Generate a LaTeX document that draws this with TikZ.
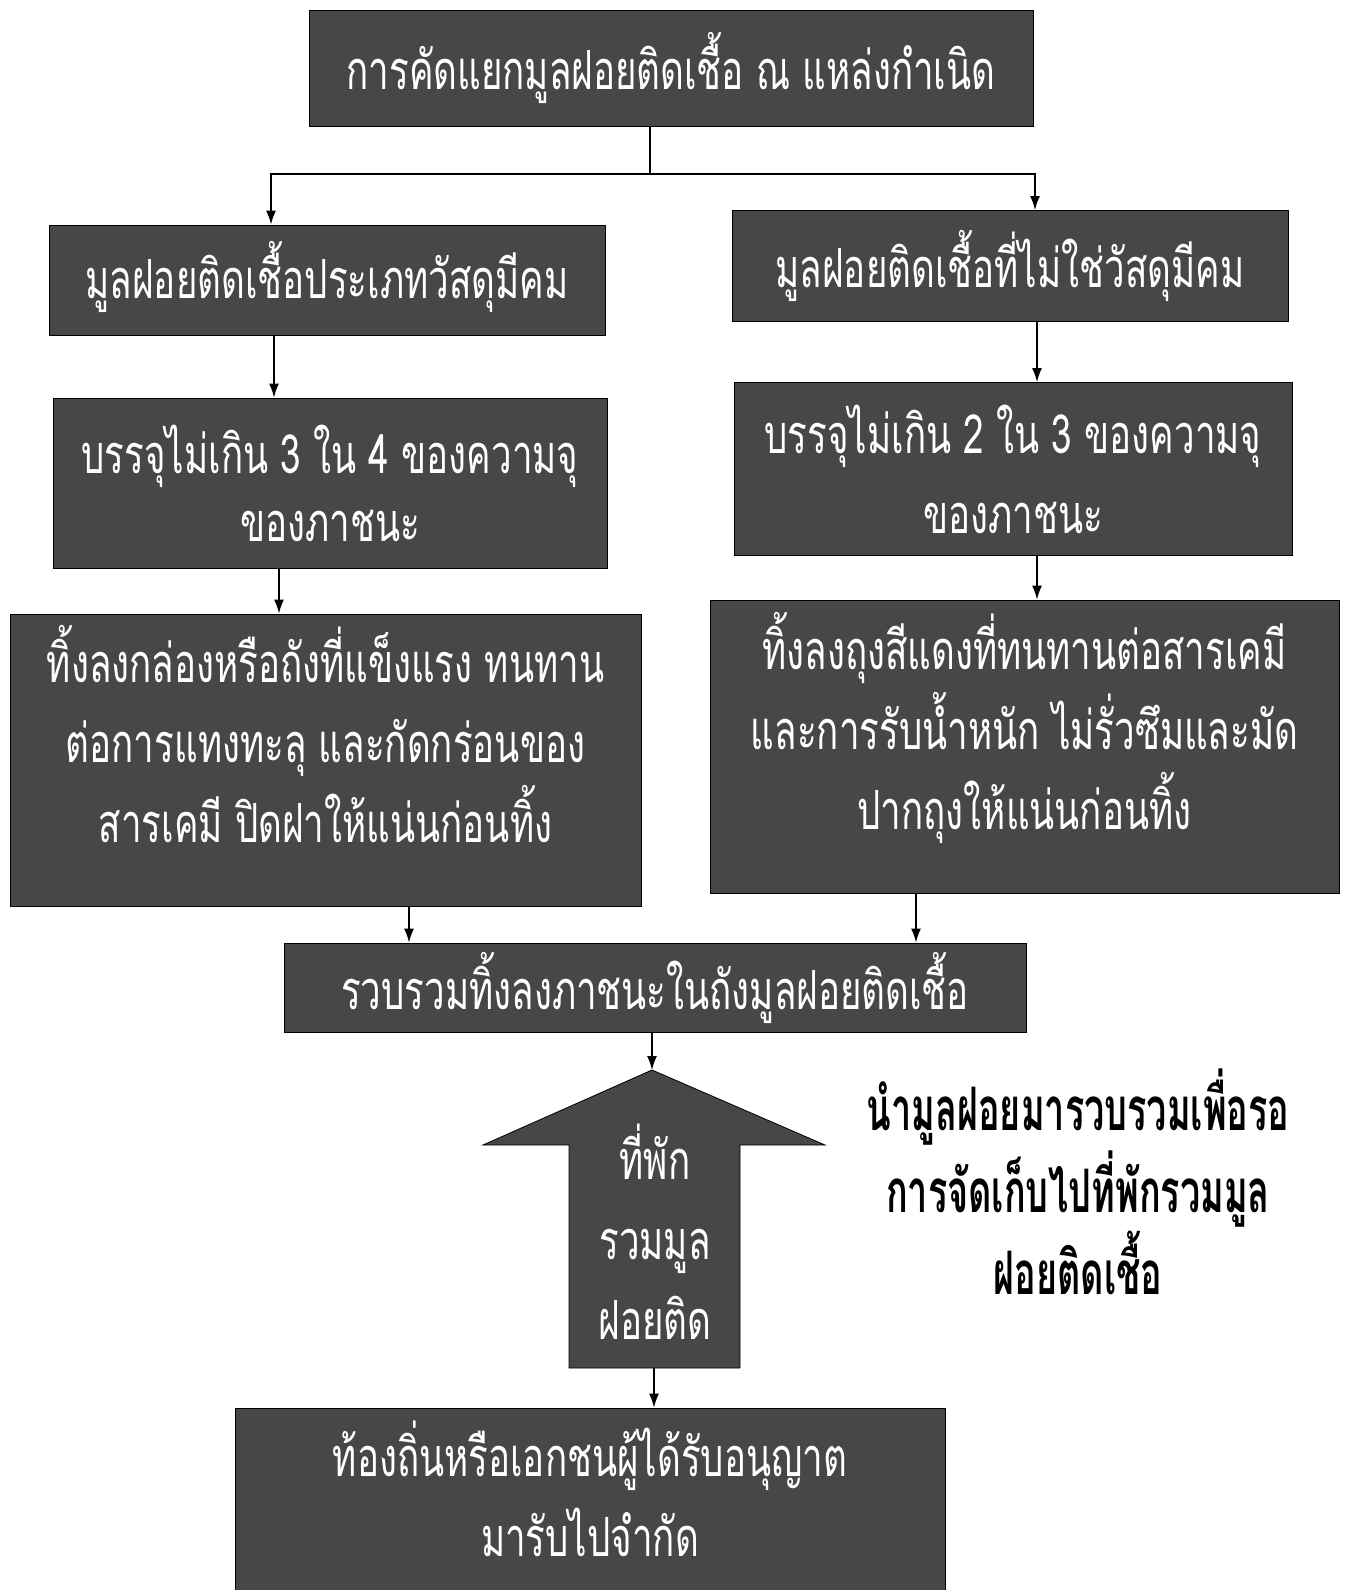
\documentclass[tikz,border=0pt]{standalone}
\usepackage{fontspec}
\newfontfamily\thaifont[Script=Thai,FakeStretch=0.68]{Loma}
\newfontfamily\notefont[Script=Thai,FakeStretch=0.6]{Loma}
\usetikzlibrary{arrows.meta,positioning}

\begin{document}
\begin{tikzpicture}
    [x=0.5pt, y=-0.5pt,
    % STYLES
    % The stage style is used for the dark boxes of the flow
    stage/.style={rectangle, draw=black, fill=black!72, text=white, align=center, inner sep=0pt, font=\thaifont\fontsize{27}{40}\selectfont},
    % The flow style is used for the connectors
    flow/.style={-{Latex[length=7pt,width=5pt]}, line width=0.8pt},
    % The note style is used for the explanation beside the big arrow
    note/.style={align=center, font=\notefont\bfseries\fontsize{30}{41}\selectfont}]

    \useasboundingbox (0,0) rectangle (1348,1590);

    % Draw stages
    \node [stage, minimum width=362pt, minimum height=58pt] (source) at (671,68) {การคัดแยกมูลฝอยติดเชื้อ ณ แหล่งกำเนิด};
    \node [stage, minimum width=278pt, minimum height=55pt] (sharp) at (327,280) {มูลฝอยติดเชื้อประเภทวัสดุมีคม\\[-30pt]\mbox{}};
    \node [stage, minimum width=278pt, minimum height=55.5pt] (nonsharp) at (1010,266) {มูลฝอยติดเชื้อที่ไม่ใช่วัสดุมีคม};
    \node [stage, minimum width=277pt, minimum height=85pt] (fillA) at (330,483) {บรรจุไม่เกิน 3 ใน 4 ของความจุ\\[-6pt]ของภาชนะ};
    \node [stage, minimum width=279pt, minimum height=86.5pt] (fillB) at (1013,469) {บรรจุไม่เกิน 2 ใน 3 ของความจุ\\ของภาชนะ};
    \node [stage, minimum width=315.5pt, minimum height=146pt] (boxA) at (325.5,760) {ทิ้งลงกล่องหรือถังที่แข็งแรง ทนทาน\\ต่อการแทงทะลุ และกัดกร่อนของ\\สารเคมี ปิดฝาให้แน่นก่อนทิ้ง\\[-14pt]\mbox{}};
    \node [stage, minimum width=314.5pt, minimum height=146.5pt] (bagB) at (1024.5,746.5) {ทิ้งลงถุงสีแดงที่ทนทานต่อสารเคมี\\และการรับน้ำหนัก ไม่รั่วซึมและมัด\\ปากถุงให้แน่นก่อนทิ้ง\\[-14pt]\mbox{}};
    \node [stage, minimum width=371pt, minimum height=44.5pt] (collect) at (655,987.5) {รวบรวมทิ้งลงภาชนะในถังมูลฝอยติดเชื้อ};
    \node [stage, minimum width=355pt, minimum height=91pt] (permit) at (590,1499) {ท้องถิ่นหรือเอกชนผู้ได้รับอนุญาต\\มารับไปจำกัด\\[-30pt]\mbox{}};

    % Big arrow of the storage room
    \coordinate (tip) at (652,1070);
    \coordinate (foot) at (654,1368);
    \filldraw [draw=black, fill=black!72] (tip) -- (825,1145) -- (740,1145) -- (740,1368) -- (569,1368) -- (569,1145) -- (483,1145) -- cycle;
    \node [stage, draw=none, fill=none] (store) at (655,1232) {ที่พัก\\รวมมูล\\ฝอยติด};

    \node [note] (explain) at (1078,1182) {นำมูลฝอยมารวบรวมเพื่อรอ\\การจัดเก็บไปที่พักรวมมูล\\ฝอยติดเชื้อ};

    % Draw connectors
    \coordinate (split) at (650,174);
    \draw [line width=0.8pt] (650,0 |- source.south) -- (split);
    \draw [flow] (split) -| (271,0 |- sharp.north);
    \draw [flow] (split) -| (1035,0 |- nonsharp.north);
    \draw [flow] (274,0 |- sharp.south) -- (274,0 |- fillA.north);
    \draw [flow] (1037,0 |- nonsharp.south) -- (1037,0 |- fillB.north);
    \draw [flow] (279,0 |- fillA.south) -- (279,0 |- boxA.north);
    \draw [flow] (1037,0 |- fillB.south) -- (1037,0 |- bagB.north);
    \draw [flow] (409,0 |- boxA.south) -- (409,0 |- collect.north);
    \draw [flow] (916,0 |- bagB.south) -- (916,0 |- collect.north);
    \draw [flow] (tip |- collect.south) -- (tip);
    \draw [flow] (foot) -- (foot |- permit.north);
\end{tikzpicture}
\end{document}
